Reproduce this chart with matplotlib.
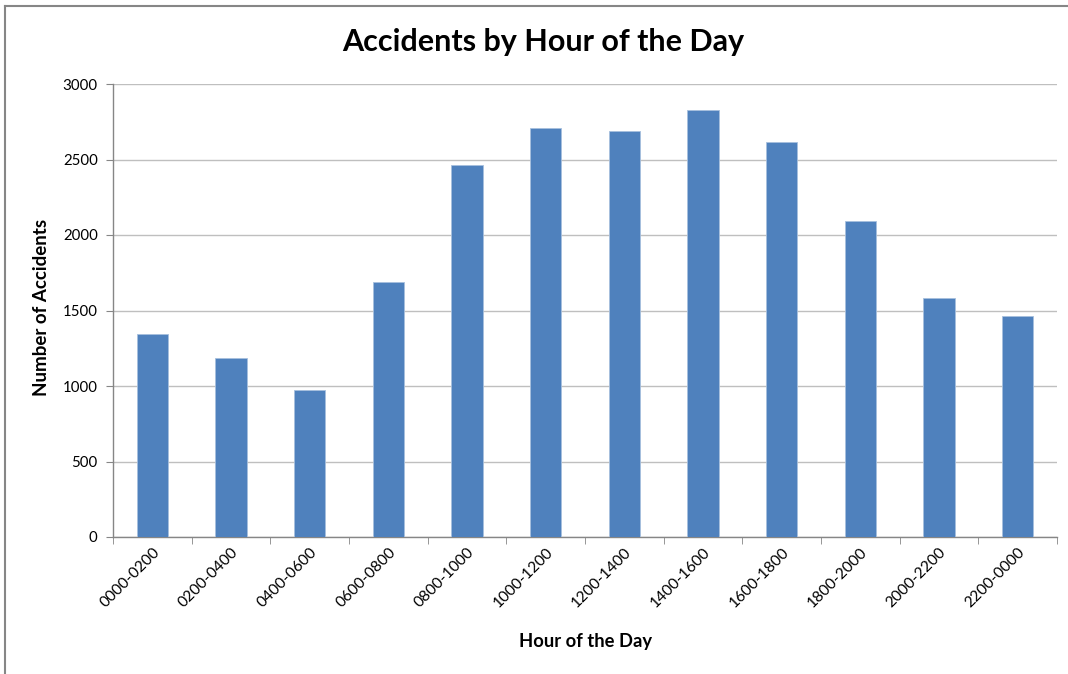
import matplotlib
matplotlib.use("Agg")
import matplotlib.pyplot as plt
from matplotlib.lines import Line2D
import numpy as np

categories = ["0000-0200", "0200-0400", "0400-0600", "0600-0800", "0800-1000", "1000-1200",
              "1200-1400", "1400-1600", "1600-1800", "1800-2000", "2000-2200", "2200-0000"]
accidents = [1347, 1185, 973, 1689, 2465, 2707, 2689, 2826, 2614, 2091, 1583, 1464]
y_ticks = [0, 500, 1000, 1500, 2000, 2500, 3000]

plt.rcParams['font.family'] = ['Lato', 'DejaVu Sans']

fig = plt.figure(figsize=(10.68, 6.74), dpi=100)
ax = fig.add_axes([113/1068, 1-537/674, (1057-113)/1068, (537-84)/674])

x = np.arange(len(categories))
ax.bar(x, accidents, width=0.4, color="#4F81BD", edgecolor="#A7C0DE", linewidth=0.6, zorder=3)

ax.set_xlim(-0.5, len(categories) - 0.5)
ax.set_ylim(0, 3000)
ax.set_yticks(y_ticks)
ax.set_yticklabels([str(v) for v in y_ticks], fontsize=10.8)
ax.yaxis.grid(True, color="#BFBFBF", linewidth=1.0, zorder=0)
ax.set_axisbelow(True)

ax.set_xticks(x)
ax.set_xticklabels(categories, rotation=45, ha='right', rotation_mode='anchor', fontsize=11.2)
ax.tick_params(axis='x', length=0, pad=6)
ax.set_xticks(np.arange(-0.5, len(categories) + 0.5, 1), minor=True)
ax.tick_params(axis='x', which='minor', length=5, color="#868686", direction='out')
ax.tick_params(axis='y', length=5, color="#868686", direction='out', pad=6)

for s in ['top', 'right']:
    ax.spines[s].set_visible(False)
for s in ['left', 'bottom']:
    ax.spines[s].set_color("#868686")
    ax.spines[s].set_linewidth(1.0)

fig.text(543/1068, 1-42/674, "Accidents by Hour of the Day", ha='center', va='center',
         fontsize=22, fontweight='bold')
fig.text(42/1068, 1-307/674, "Number of Accidents", ha='center', va='center',
         rotation=90, fontsize=13.5, fontweight='bold')
fig.text(586/1068, 1-641/674, "Hour of the Day", ha='center', va='center',
         fontsize=13.2, fontweight='bold')

# chart frame: only top and left edges visible in the crop
fig.lines.append(Line2D([5.5/1068, 1.0], [1-5.5/674, 1-5.5/674], transform=fig.transFigure,
                        color="#868686", linewidth=1.5))
fig.lines.append(Line2D([5.5/1068, 5.5/1068], [0.0, 1-5.5/674], transform=fig.transFigure,
                        color="#868686", linewidth=1.5))

fig.savefig("out.png", dpi=100)
